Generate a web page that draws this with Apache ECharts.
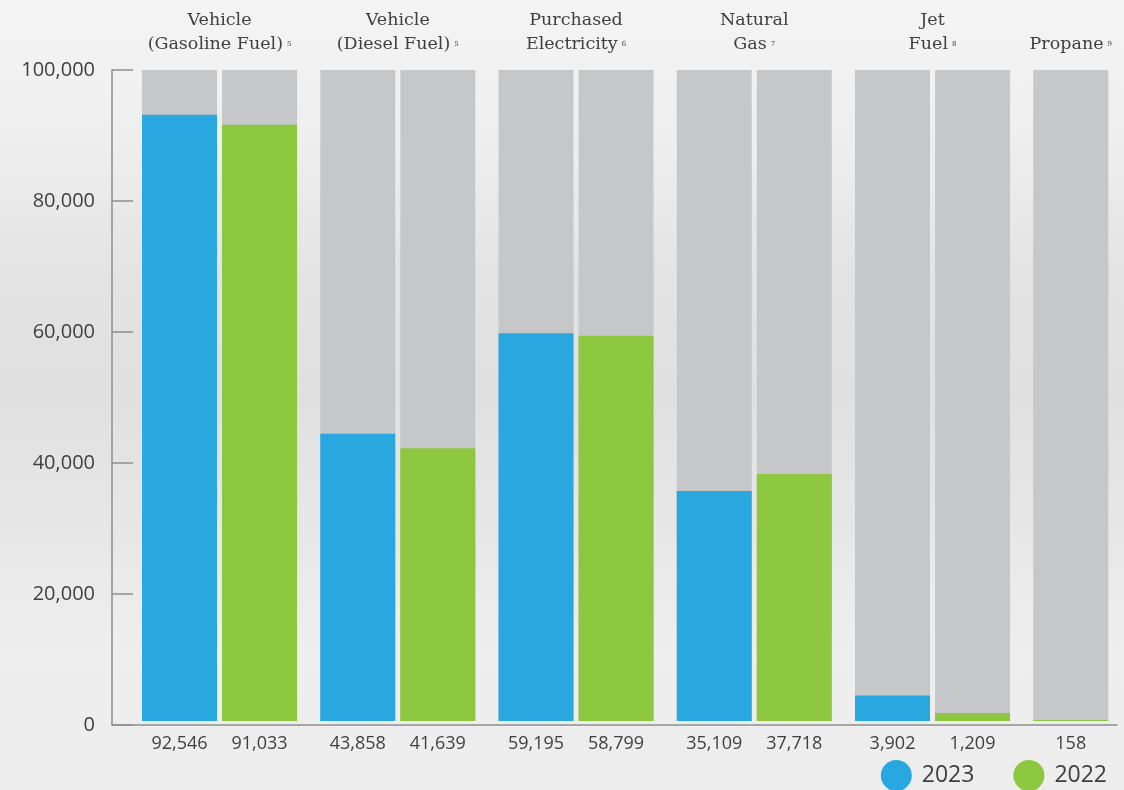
<!DOCTYPE html>
<html>
<head>
<meta charset="utf-8">
<script src="https://cdn.jsdelivr.net/npm/echarts@6/dist/echarts.min.js"></script>
<style>
  html, body { margin: 0; padding: 0; }
  body {
    width: 1124px; height: 790px; overflow: hidden;
    background: linear-gradient(to bottom, #f4f4f4 0%, #eeeeee 18%, #e3e3e3 35%, #e0e0e0 50%, #e6e6e6 65%, #eeeeee 82%, #ededed 100%);
  }
  #chart { width: 1124px; height: 790px; }
</style>
</head>
<body>
<div id="chart"></div>
<script>
// ---- data ----
const categories = ['Vehicle\n(Gasoline Fuel)', 'Vehicle\n(Diesel Fuel)', 'Purchased\nElectricity', 'Natural\nGas', 'Jet\nFuel', 'Propane'];
const footnotes = ['5', '5', '6', '7', '8', '9'];
const values2023 = [92546, 43858, 59195, 35109, 3902];          // no 2023 value for Propane
const values2022 = [91033, 41639, 58799, 37718, 1209, 158];
const yTicks = [0, 20000, 40000, 60000, 80000, 100000];

// ---- style ----
const BLUE = '#29a8e0', GREEN = '#8dc63f', GRAY = '#c6c7c8', TEXT = '#3f3f3f';
const W = 1124, H = 790;
const plotTop = 70, plotBottomY = 725;           // visible axis: 100,000 at y=70, 0 at y=725
const barBaseY = 721;                             // bars sit slightly above the axis line
const yMax = yTicks[yTicks.length - 1];
const barAxisMax = yMax * (barBaseY - plotTop) / (plotBottomY - plotTop);
const bandW = 178.25, barGridLeft = 130.4;

// left slot: 2023 values; Propane (no 2023 value) shows its single 2022 bar in the left slot
const leftSlot = categories.map((c, i) => i < values2023.length
  ? values2023[i]
  : { value: values2022[i], itemStyle: { color: GREEN } });
const rightSlot = values2022.slice(0, values2023.length);

const fmt = v => Number(v).toLocaleString('en-US');

const chart = echarts.init(document.getElementById('chart'), null, { renderer: 'canvas' });

const labelStyle = {
  show: true, position: 'bottom', distance: 14,
  formatter: p => fmt(p.value),
  fontFamily: 'Open Sans', fontSize: 18, color: TEXT
};

chart.setOption({
  backgroundColor: 'transparent',
  animation: false,
  grid: [
    { left: barGridLeft, width: bandW * categories.length, top: plotTop, bottom: H - barBaseY,
      containLabel: false, outerBoundsMode: 'none' },
    { left: 112, right: 7, top: plotTop, bottom: H - plotBottomY, containLabel: false, outerBoundsMode: 'none' }
  ],
  xAxis: [
    {
      type: 'category', gridIndex: 0, position: 'top', data: categories,
      axisLine: { show: false }, axisTick: { show: false },
      axisLabel: {
        interval: 0, margin: 14,
        formatter: (value, idx) => {
          const lines = value.split('\n');
          return lines.map((l, i) => i === lines.length - 1
            ? '{t|' + l + '}{s|' + footnotes[idx] + '}' + (idx === categories.length - 1 ? '{sp|}' : '')
            : '{t|' + l + '}').join('\n');
        },
        rich: {
          t: { fontFamily: 'DejaVu Serif', fontSize: 17.5, color: TEXT, lineHeight: 24 },
          s: { fontFamily: 'DejaVu Serif', fontSize: 7, color: TEXT, lineHeight: 24, padding: [0, 0, 0, 4] },
          sp: { width: 80 }
        }
      }
    },
    {
      type: 'value', gridIndex: 1, min: 0, max: 1,
      axisLine: { show: true, onZero: false, lineStyle: { color: '#8e8e8e', width: 1.5 } },
      axisTick: { show: false }, axisLabel: { show: false }, splitLine: { show: false }
    }
  ],
  yAxis: [
    { type: 'value', gridIndex: 0, min: 0, max: barAxisMax, show: false, splitLine: { show: false } },
    {
      type: 'value', gridIndex: 1, min: 0, max: yMax, interval: yTicks[1] - yTicks[0],
      axisLine: { show: true, onZero: false, lineStyle: { color: '#8e8e8e', width: 1.5 } },
      axisTick: { show: true, inside: true, length: 21, lineStyle: { color: '#8e8e8e', width: 1.5 } },
      splitLine: { show: false },
      axisLabel: { margin: 17, formatter: v => fmt(v), fontFamily: 'Open Sans', fontSize: 20, color: TEXT }
    }
  ],
  legend: {
    right: 17, top: 760, padding: 0, itemWidth: 31, itemHeight: 31, itemGap: 39, icon: 'circle',
    data: ['2023', '2022'],
    textStyle: { fontFamily: 'Open Sans', fontSize: 23, color: TEXT, padding: [0, 0, 0, 5] },
    selectedMode: false
  },
  series: [
    {
      name: '2023', type: 'bar', xAxisIndex: 0, yAxisIndex: 0,
      data: leftSlot, barWidth: 75, barGap: '6.7%',
      itemStyle: { color: BLUE },
      showBackground: true, backgroundStyle: { color: GRAY },
      label: labelStyle
    },
    {
      name: '2022', type: 'bar', xAxisIndex: 0, yAxisIndex: 0,
      data: rightSlot, barWidth: 75, barGap: '6.7%',
      itemStyle: { color: GREEN },
      showBackground: true, backgroundStyle: { color: GRAY },
      label: labelStyle
    }
  ]
});
</script>
</body>
</html>
